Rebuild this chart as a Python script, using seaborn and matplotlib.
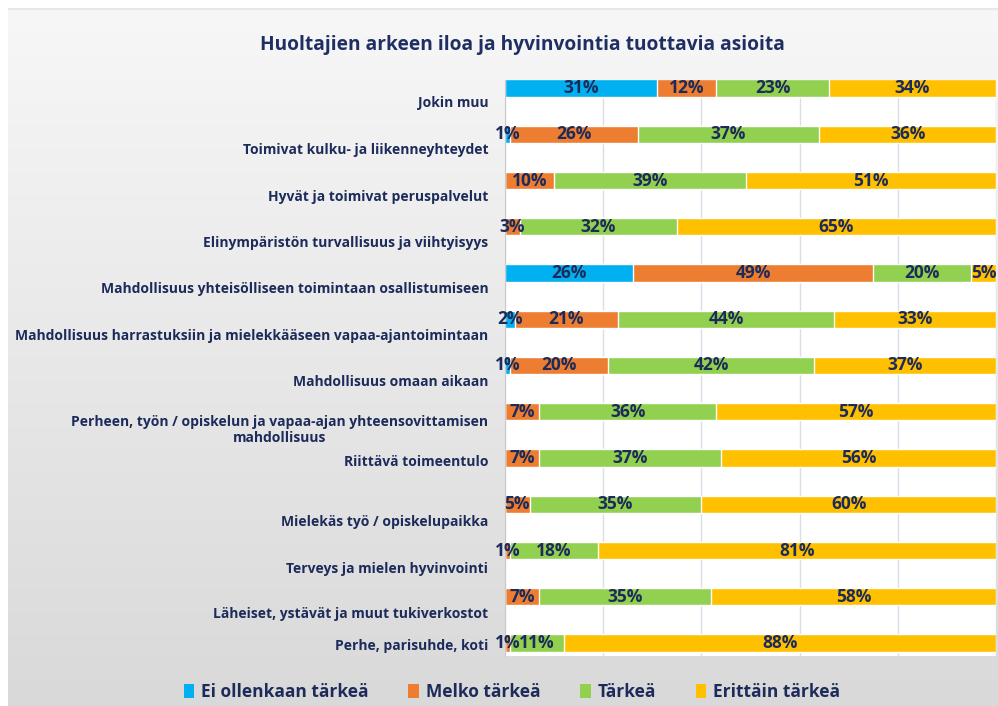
import numpy as np
import pandas as pd
import matplotlib.pyplot as plt
import matplotlib.transforms as mtransforms
from matplotlib.patches import Patch
from matplotlib.colors import LinearSegmentedColormap
import seaborn as sns

categories = [
    "Jokin muu",
    "Toimivat kulku- ja liikenneyhteydet",
    "Hyvät ja toimivat peruspalvelut",
    "Elinympäristön turvallisuus ja viihtyisyys",
    "Mahdollisuus yhteisölliseen toimintaan osallistumiseen",
    "Mahdollisuus harrastuksiin ja mielekkääseen vapaa-ajantoimintaan",
    "Mahdollisuus omaan aikaan",
    "Perheen, työn / opiskelun ja vapaa-ajan yhteensovittamisen\nmahdollisuus",
    "Riittävä toimeentulo",
    "Mielekäs työ / opiskelupaikka",
    "Terveys ja mielen hyvinvointi",
    "Läheiset, ystävät ja muut tukiverkostot",
    "Perhe, parisuhde, koti",
]
series = ["Ei ollenkaan tärkeä", "Melko tärkeä", "Tärkeä", "Erittäin tärkeä"]
ei_ollenkaan = [31, 1, 0, 0, 26, 2, 1, 0, 0, 0, 0, 0, 0]
melko = [12, 26, 10, 3, 49, 21, 20, 7, 7, 5, 1, 7, 1]
tarkea = [23, 37, 39, 32, 20, 44, 42, 36, 37, 35, 18, 35, 11]
erittain = [34, 36, 51, 65, 5, 33, 37, 57, 56, 60, 81, 58, 88]
colors = ["#00b0f0", "#ed7d31", "#92d050", "#ffc000"]
title = "Huoltajien arkeen iloa ja hyvinvointia tuottavia asioita"

navy = "#1c2b5a"
label_shift_px = [13, 14, 15, 15, 15, 15, 15, 16, 3, 16, 17, 16, 2]

df = pd.DataFrame({"kategoria": categories, series[0]: ei_ollenkaan, series[1]: melko,
                   series[2]: tarkea, series[3]: erittain})
cum = df[series].cumsum(axis=1)

sns.set_style("white")
fonts = ["Open Sans", "DejaVu Sans"]
plt.rcParams["font.family"] = fonts

fig = plt.figure(figsize=(9.98, 7.06), dpi=100)
fig.patch.set_facecolor("white")

# gradient card behind the chart
bg = fig.add_axes([8 / 998, 0, 990 / 998, 698 / 706], zorder=-5)
cmap = LinearSegmentedColormap.from_list("card", ["#f7f7f7", "#d9d9d9"])
bg.imshow(np.linspace(0, 1, 256).reshape(-1, 1), aspect="auto", cmap=cmap,
          extent=[0, 1, 0, 1], origin="upper")
bg.axis("off")
bg.axhline(1, color="#e3e7ee", lw=2)

ax = fig.add_axes([505 / 998, 50 / 706, 491 / 998, 576 / 706])
ax.set_facecolor("white")
# stacked look: draw cumulative totals from the widest layer down
for i in range(len(series) - 1, -1, -1):
    sns.barplot(data=cum, x=series[i], y=df["kategoria"], order=categories, orient="h",
                color=colors[i], saturation=1, width=0.37, errorbar=None, ax=ax, zorder=2)

for r, cat in enumerate(categories):
    left = 0
    for s in series:
        v = df.loc[r, s]
        if v > 0:
            ax.text(left + v / 2, r, f"{v}%", ha="center", va="center", fontsize=12.5,
                    fontweight="bold", color=navy, zorder=5)
        left += v

ax.set_xlim(0, 100)
ax.set_ylim(12 + 13 / 46.25, -8 / 46.25)
ax.set_xticks([0, 20, 40, 60, 80, 100])
ax.set_xticklabels([])
ax.grid(axis="x", color="#d9dee8", lw=1)
ax.grid(axis="y", visible=False)
ax.set_axisbelow(True)
ax.set_xlabel("")
ax.set_ylabel("")
ax.tick_params(axis="both", length=0)
ax.tick_params(axis="y", pad=12)
for side in ["top", "right", "bottom"]:
    ax.spines[side].set_visible(False)
ax.spines["left"].set_color("#c9c9c9")

for lab, dy in zip(ax.get_yticklabels(), label_shift_px):
    lab.set_fontsize(10)
    lab.set_fontweight("bold")
    lab.set_color(navy)
    lab.set_multialignment("center")
    lab.set_transform(lab.get_transform() +
                      mtransforms.ScaledTranslation(0, -dy / 100, fig.dpi_scale_trans))

fig.text(522 / 998, 1 - 45 / 706, title, ha="center", va="center", fontsize=13.8,
         fontweight="bold", color="#1f2f63")

handles = [Patch(facecolor=c, edgecolor="none") for c in colors]
leg = fig.legend(handles, series, loc="center", bbox_to_anchor=(512 / 998, 1 - 692 / 706),
                 ncol=4, frameon=False, handlelength=0.6, handleheight=0.9,
                 handletextpad=0.4, columnspacing=2.3,
                 prop={"family": fonts, "weight": "bold", "size": 12.5})
for t in leg.get_texts():
    t.set_color(navy)

fig.savefig("out.png", dpi=100)
